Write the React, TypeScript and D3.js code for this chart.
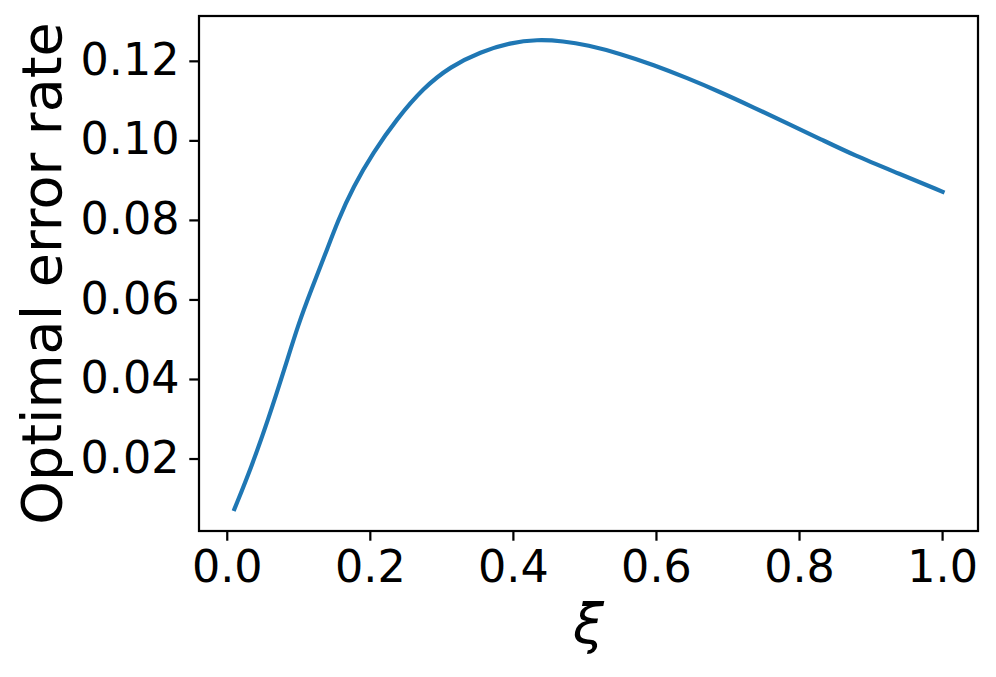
import React from "react";
import * as d3 from "d3";

const xiValues = [0.01, 0.034, 0.057, 0.081, 0.099, 0.118, 0.137, 0.155, 0.176, 0.204, 0.237, 0.274, 0.312, 0.354, 0.396, 0.433, 0.47, 0.503, 0.55, 0.596, 0.643, 0.689, 0.736, 0.783, 0.83, 0.876, 0.94, 1.0];
const errorRates = [0.0074, 0.0181, 0.0298, 0.0432, 0.0537, 0.0628, 0.0715, 0.0801, 0.0884, 0.0971, 0.1055, 0.1133, 0.1187, 0.1224, 0.1247, 0.1255, 0.1251, 0.1241, 0.1219, 0.1191, 0.1158, 0.1123, 0.1084, 0.1044, 0.1004, 0.0964, 0.0917, 0.0872];
const xTicks = [0.0, 0.2, 0.4, 0.6, 0.8, 1.0];
const yTicks = [0.02, 0.04, 0.06, 0.08, 0.1, 0.12];

const W = 996;
const H = 677;
const L = 199, R = 978, T = 16, B = 531;

export default function App() {
  const x = d3.scaleLinear().domain([-0.0395, 1.0495]).range([L, R]);
  const y = d3.scaleLinear().domain([0.0019, 0.1314]).range([B, T]);
  const pts = xiValues.map((v, i) => [v, errorRates[i]] as [number, number]);
  const line = d3
    .line<[number, number]>()
    .x((d) => x(d[0]))
    .y((d) => y(d[1]))
    .curve(d3.curveBasis);
  const font = "'DejaVu Sans', sans-serif";
  const tickLen = 9.72;
  const sw = 2.22;
  return (
    <svg
      width={W}
      height={H}
      style={{ position: "absolute", left: 0, top: 0, background: "#fff" }}
      fontFamily={font}
    >
      <rect x={0} y={0} width={W} height={H} fill="#fff" />
      <path d={line(pts) || ""} fill="none" stroke="#1f77b4" strokeWidth={4.17} strokeLinecap="square" />
      {xTicks.map((t) => (
        <g key={"x" + t}>
          <line x1={x(t)} x2={x(t)} y1={B} y2={B + tickLen} stroke="#000" strokeWidth={sw} />
          <text x={x(t)} y={582} textAnchor="middle" fontSize={44.44} fill="#000">
            {t.toFixed(1)}
          </text>
        </g>
      ))}
      {yTicks.map((t) => (
        <g key={"y" + t}>
          <line x1={L - tickLen} x2={L} y1={y(t)} y2={y(t)} stroke="#000" strokeWidth={sw} />
          <text x={L - 2 * tickLen} y={y(t) + 13.6} textAnchor="end" fontSize={44.44} fill="#000">
            {t.toFixed(2)}
          </text>
        </g>
      ))}
      <rect x={L} y={T} width={R - L} height={B - T} fill="none" stroke="#000" strokeWidth={sw} />
      <text
        transform={`translate(61, ${(T + B) / 2}) rotate(-90)`}
        textAnchor="middle"
        fontSize={55.56}
        fill="#000"
      >
        Optimal error rate
      </text>
      <text x={(L + R) / 2} y={643} textAnchor="middle" fontSize={55.56} fontStyle="italic" fill="#000">
        ξ
      </text>
    </svg>
  );
}
